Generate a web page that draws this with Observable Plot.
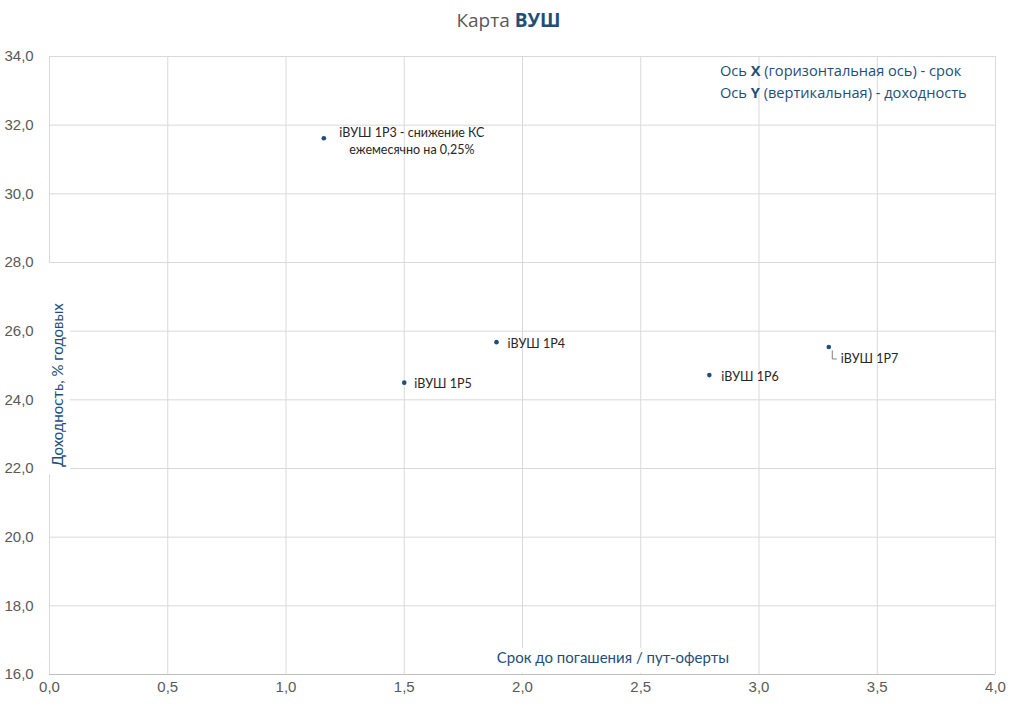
<!DOCTYPE html>
<html>
<head>
<meta charset="utf-8">
<script src="https://cdn.jsdelivr.net/npm/d3@7"></script>
<script src="https://cdn.jsdelivr.net/npm/@observablehq/plot@0.6"></script>
<style>
  html, body { margin: 0; padding: 0; background: #fff; }
  #wrap { position: relative; width: 1015px; height: 708px; overflow: hidden; }
  #title { height: 40px; line-height: 40px; text-align: center; font-family: "Open Sans", sans-serif; font-size: 19px; color: #595959; padding-left: 2px; }
  #title b { color: #1f4e79; font-weight: 700; }
  #legend { position: absolute; left: 720px; top: 59px; font-family: "Open Sans", sans-serif; font-size: 14.6px; color: #1f4e79; line-height: 22px; white-space: nowrap; }
  #legend b { font-weight: 700; }
</style>
</head>
<body>
<div id="wrap">
  <div id="title">Карта <b>ВУШ</b></div>
  <div id="chart"></div>
  <div id="legend">Ось <b>X</b> (горизонтальная ось) - срок<br>Ось <b>Y</b> (вертикальная) - доходность</div>
</div>
<script>
const bonds = ["iВУШ 1Р3 - снижение КС\nежемесячно на 0,25%", "iВУШ 1Р4", "iВУШ 1Р5", "iВУШ 1Р6", "iВУШ 1Р7"];
const maturity = [1.16, 1.89, 1.50, 2.79, 3.295];
const yields = [31.62, 25.68, 24.50, 24.72, 25.54];
const xTicks = [0, 0.5, 1, 1.5, 2, 2.5, 3, 3.5, 4];
const yTicks = [16, 18, 20, 22, 24, 26, 28, 30, 32, 34];
const xTitle = "Срок до погашения / пут-оферты";
const yTitle = "Доходность, % годовых";

const data = bonds.map((name, i) => ({name, x: maturity[i], y: yields[i]}));
const fmt = d => d.toFixed(1).replace(".", ",");

const blue = "#1f4e79";
const labelFont = "Lato, 'Noto Sans', sans-serif";

const svgNS = "http://www.w3.org/2000/svg";
function el(tag, attrs, text) {
  const e = document.createElementNS(svgNS, tag);
  for (const k in attrs) e.setAttribute(k, attrs[k]);
  if (text != null) e.textContent = text;
  return e;
}

// axis titles with white boxes (Excel style)
const titlesMark = () => {
  const g = el("g", {});
  g.appendChild(el("rect", {x: 44, y: 223, width: 26, height: 211, fill: "#fff"}));
  g.appendChild(el("text", {transform: "translate(63,345) rotate(-90)", "text-anchor": "middle", "font-family": labelFont, "font-size": 15, fill: blue}, yTitle));
  g.appendChild(el("rect", {x: 485, y: 608, width: 258, height: 25, fill: "#fff"}));
  g.appendChild(el("text", {x: 613, y: 623, "text-anchor": "middle", "font-family": labelFont, "font-size": 15, fill: blue}, xTitle));
  return g;
};

// leader line for the 1Р7 label
const leaderMark = (index, scales) => {
  const d = data[4];
  const px = scales.x(d.x), py = scales.y(d.y);
  return el("path", {d: `M${px + 4},${py + 4}V${py + 12.5}H${px + 8.5}`, fill: "none", stroke: "#7f7f7f", "stroke-width": 1});
};

const offsets = [
  {dx: 88, dy: 2, anchor: "middle"},
  {dx: 11, dy: 0, anchor: "start"},
  {dx: 10, dy: 0, anchor: "start"},
  {dx: 12, dy: 0, anchor: "start"},
  {dx: 12, dy: 11, anchor: "start"}
];

const chart = Plot.plot({
  width: 1015,
  height: 668,
  marginLeft: 49,
  marginRight: 20,
  marginTop: 16,
  marginBottom: 34,
  x: {domain: [0, 4], axis: null},
  y: {domain: [16, 34], axis: null},
  style: {background: "#fff", overflow: "visible"},
  marks: [
    Plot.gridX(xTicks, {stroke: "#d9d9d9", strokeOpacity: 1}),
    Plot.gridY(yTicks, {stroke: "#d9d9d9", strokeOpacity: 1}),
    Plot.ruleY([16], {stroke: "#bfbfbf"}),
    titlesMark,
    Plot.text(xTicks, {x: d => d, frameAnchor: "bottom", dy: 17, text: fmt, fill: "#595959", fontSize: 15, fontFamily: "'Liberation Sans', Arial, sans-serif"}),
    Plot.text(yTicks, {y: d => d, frameAnchor: "left", dx: -45, textAnchor: "start", text: fmt, fill: "#595959", fontSize: 15, fontFamily: "'Liberation Sans', Arial, sans-serif"}),
    leaderMark,
    Plot.dot(data, {x: "x", y: "y", r: 2.3, fill: blue, stroke: "none"}),
    ...data.map((d, i) => Plot.text([d], {
      x: "x", y: "y", text: "name",
      dx: offsets[i].dx, dy: offsets[i].dy,
      textAnchor: offsets[i].anchor,
      lineHeight: 1.35,
      fontSize: 12.5, fontFamily: labelFont, fill: "#262626"
    }))
  ]
});
document.getElementById("chart").appendChild(chart);
</script>
</body>
</html>
